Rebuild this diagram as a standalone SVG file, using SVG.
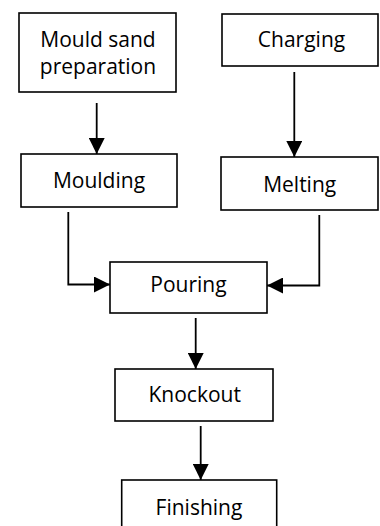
<svg xmlns="http://www.w3.org/2000/svg" width="380" height="526" viewBox="0 0 380 526">
  <defs>
    <marker id="arr" markerUnits="userSpaceOnUse" markerWidth="16" markerHeight="16" viewBox="0 0 16 16" refX="16" refY="8" orient="auto">
      <path d="M0,0 L16,8 L0,16 Z" fill="#000"/>
    </marker>
    <style>
      .box { fill: #fff; stroke: #000; stroke-width: 1.6; }
      .lbl { font-family: "Open Sans", "Noto Sans", "Liberation Sans", sans-serif; font-size: 21px; fill: #000; text-anchor: middle; }
      .con { fill: none; stroke: #000; stroke-width: 1.8; marker-end: url(#arr); }
    </style>
  </defs>
  <rect width="380" height="526" fill="#fff"/>
  <g id="connectors">
    <path class="con" d="M96.7,103 V154"/>
    <path class="con" d="M294.3,72 V157"/>
    <path class="con" d="M68.3,212 V284.5 H110"/>
    <path class="con" d="M319.3,215 V285.5 H267"/>
    <path class="con" d="M195.7,318 V369"/>
    <path class="con" d="M200.7,426 V480"/>
  </g>
  <g id="mould-sand">
    <rect class="box" x="19" y="13" width="157" height="79"/>
    <text class="lbl" x="98" y="46.7">Mould sand</text>
    <text class="lbl" x="98" y="74">preparation</text>
  </g>
  <g id="charging">
    <rect class="box" x="222" y="14" width="156" height="52"/>
    <text class="lbl" x="301.5" y="46.7">Charging</text>
  </g>
  <g id="moulding">
    <rect class="box" x="21" y="154" width="156" height="53"/>
    <text class="lbl" x="99" y="188.3">Moulding</text>
  </g>
  <g id="melting">
    <rect class="box" x="221" y="157" width="157" height="53"/>
    <text class="lbl" x="299.7" y="192">Melting</text>
  </g>
  <g id="pouring">
    <rect class="box" x="110" y="262" width="157" height="51"/>
    <text class="lbl" x="188.5" y="292.3">Pouring</text>
  </g>
  <g id="knockout">
    <rect class="box" x="115" y="369" width="158" height="52"/>
    <text class="lbl" x="194.7" y="401.7">Knockout</text>
  </g>
  <g id="finishing">
    <rect class="box" x="121.7" y="480" width="155" height="60"/>
    <text class="lbl" x="199" y="515">Finishing</text>
  </g>
</svg>
